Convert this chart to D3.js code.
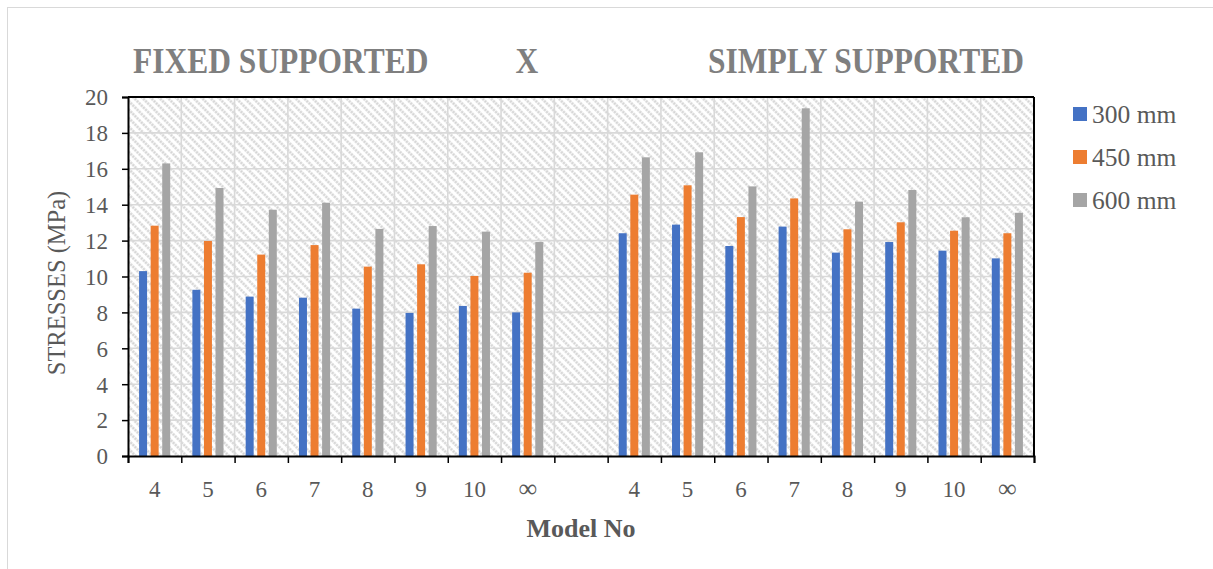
<!DOCTYPE html>
<html><head><meta charset="utf-8">
<script src="https://cdn.jsdelivr.net/npm/d3@7"></script>
<style>body{margin:0;background:#fff}svg{display:block}</style>
</head><body>
<svg id="c" width="1213" height="569"></svg>
<script>
const categories = ["4","5","6","7","8","9","10","∞","","4 ","5 ","6 ","7 ","8 ","9 ","10 ","∞ "];
const tickLabels = ["4","5","6","7","8","9","10","∞","","4","5","6","7","8","9","10","∞"];
const seriesNames = ["300 mm","450 mm","600 mm"];
const colors = ["#4472c4","#ed7d31","#a5a5a5"];
const s300 = [10.3,9.26,8.88,8.82,8.21,7.97,8.36,8.0,null,12.41,12.89,11.7,12.78,11.33,11.92,11.44,11.01];
const s450 = [12.83,11.98,11.22,11.75,10.55,10.68,10.03,10.21,null,14.56,15.08,13.31,14.35,12.63,13.02,12.55,12.41];
const s600 = [16.3,14.93,13.72,14.11,12.65,12.81,12.5,11.92,null,16.64,16.92,15.02,19.37,14.17,14.82,13.3,13.55];
const yTicks = [0,2,4,6,8,10,12,14,16,18,20];

const svg = d3.select("#c");
const L=128,R=1034,T=97,B=456;
svg.append("rect").attr("x",7.5).attr("y",7.5).attr("width",1220).attr("height",600)
  .attr("fill","#fff").attr("stroke","#d9d9d9").attr("stroke-width",1);

const defs = svg.append("defs");
const pat = defs.append("pattern").attr("id","hatch").attr("patternUnits","userSpaceOnUse")
  .attr("width",6).attr("height",6).attr("patternTransform","rotate(-45)");
pat.append("rect").attr("width",6).attr("height",6).attr("fill","#fff");
pat.append("line").attr("x1",1.5).attr("y1",0).attr("x2",1.5).attr("y2",6)
  .attr("stroke","#d4d4d4").attr("stroke-width",2.4).attr("stroke-dasharray","2.2,0.8");

const x = d3.scaleBand().domain(categories).range([L,R]).paddingInner(0).paddingOuter(0);
const y = d3.scaleLinear().domain([0,20]).range([B,T]);
const step = x.bandwidth();
const bw = step*0.15, gap = step*0.067;
const xs = d3.scaleBand().domain(seriesNames).range([0, 3*bw+2*gap]).paddingInner(gap/(bw+gap)).paddingOuter(0);
const offset = (step - (3*bw+2*gap))/2;

svg.append("rect").attr("x",L).attr("y",T).attr("width",R-L).attr("height",B-T).attr("fill","url(#hatch)");

// gridlines
const g = svg.append("g");
g.selectAll("line.h").data(yTicks.slice(1)).join("line")
  .attr("x1",L).attr("x2",R).attr("y1",d=>y(d)).attr("y2",d=>y(d))
  .attr("stroke","#d9d9d9").attr("stroke-width",1.6);
g.selectAll("line.v").data(categories.slice(1)).join("line")
  .attr("x1",d=>x(d)).attr("x2",d=>x(d)).attr("y1",T).attr("y2",B)
  .attr("stroke","#d9d9d9").attr("stroke-width",1.6);

// bars
const data = [s300,s450,s600];
data.forEach((arr,si)=>{
  svg.append("g").selectAll("rect").data(categories.map((c,i)=>({c,v:arr[i]})).filter(d=>d.v!=null))
    .join("rect")
    .attr("x",d=>x(d.c)+offset+xs(seriesNames[si]))
    .attr("width",xs.bandwidth())
    .attr("y",d=>y(d.v)).attr("height",d=>y(0)-y(d.v))
    .attr("fill",colors[si]);
});

// frame: top and right
svg.append("line").attr("x1",L).attr("x2",R).attr("y1",T).attr("y2",T).attr("stroke","#000").attr("stroke-width",2);
svg.append("line").attr("x1",R).attr("x2",R).attr("y1",T).attr("y2",B).attr("stroke","#000").attr("stroke-width",2);

// y axis
const ya = svg.append("g").attr("transform",`translate(${L},0)`)
  .call(d3.axisLeft(y).tickValues(yTicks).tickSize(6).tickPadding(14));
ya.select(".domain").attr("stroke","#000").attr("stroke-width",2);
ya.selectAll(".tick line").attr("stroke","#000").attr("stroke-width",1.5);
ya.selectAll("text").attr("font-family","Liberation Serif").attr("font-size",23).attr("fill","#595959").attr("dy","0.34em");

// x axis
const xTickScale = d3.scaleLinear().domain([0,categories.length]).range([L,R]);
const xa = svg.append("g").attr("transform",`translate(0,${B})`)
  .call(d3.axisBottom(xTickScale).tickValues(d3.range(categories.length+1)).tickSize(7).tickFormat(""));
xa.select(".domain").attr("stroke","#000").attr("stroke-width",2);
xa.selectAll(".tick line").attr("stroke","#000").attr("stroke-width",1.5);
svg.append("g").selectAll("text").data(categories).join("text")
  .attr("x",d=>x(d)+step/2).attr("y",497).attr("text-anchor","middle")
  .attr("font-family","Liberation Serif").attr("font-size",d=>d.trim()==="∞"?26:23).attr("fill","#595959")
  .text((d,i)=>tickLabels[i]);

// titles
const titleStyle = s=>s.attr("font-family","Liberation Serif").attr("font-weight","bold").attr("font-size",31.5).attr("fill","#7f7f7f");
const title = (tx,anchor,txt)=>svg.append("text").attr("transform",`translate(${tx},73) scale(1,1.12)`)
  .attr("text-anchor",anchor).text(txt).call(titleStyle);
title(133,"start","FIXED SUPPORTED");
title(527,"middle","X");
title(708,"start","SIMPLY SUPPORTED");

svg.append("text").attr("x",581).attr("y",537).attr("text-anchor","middle")
  .attr("font-family","Liberation Serif").attr("font-weight","bold").attr("font-size",26).attr("fill","#595959")
  .text("Model No");
svg.append("text").attr("transform","translate(65,283) rotate(-90)").attr("text-anchor","middle")
  .attr("font-family","Liberation Serif").attr("font-size",24.5).attr("fill","#595959")
  .text("STRESSES (MPa)");

// legend
const lg = svg.append("g").selectAll("g").data(seriesNames).join("g")
  .attr("transform",(d,i)=>`translate(1073,${114+i*43})`);
lg.append("rect").attr("x",0).attr("y",-7).attr("width",14).attr("height",14).attr("fill",(d,i)=>colors[i]);
lg.append("text").attr("x",19).attr("y",9).attr("font-family","Liberation Serif").attr("font-size",25.5).attr("fill","#595959").text(d=>d);
</script>
</body></html>
